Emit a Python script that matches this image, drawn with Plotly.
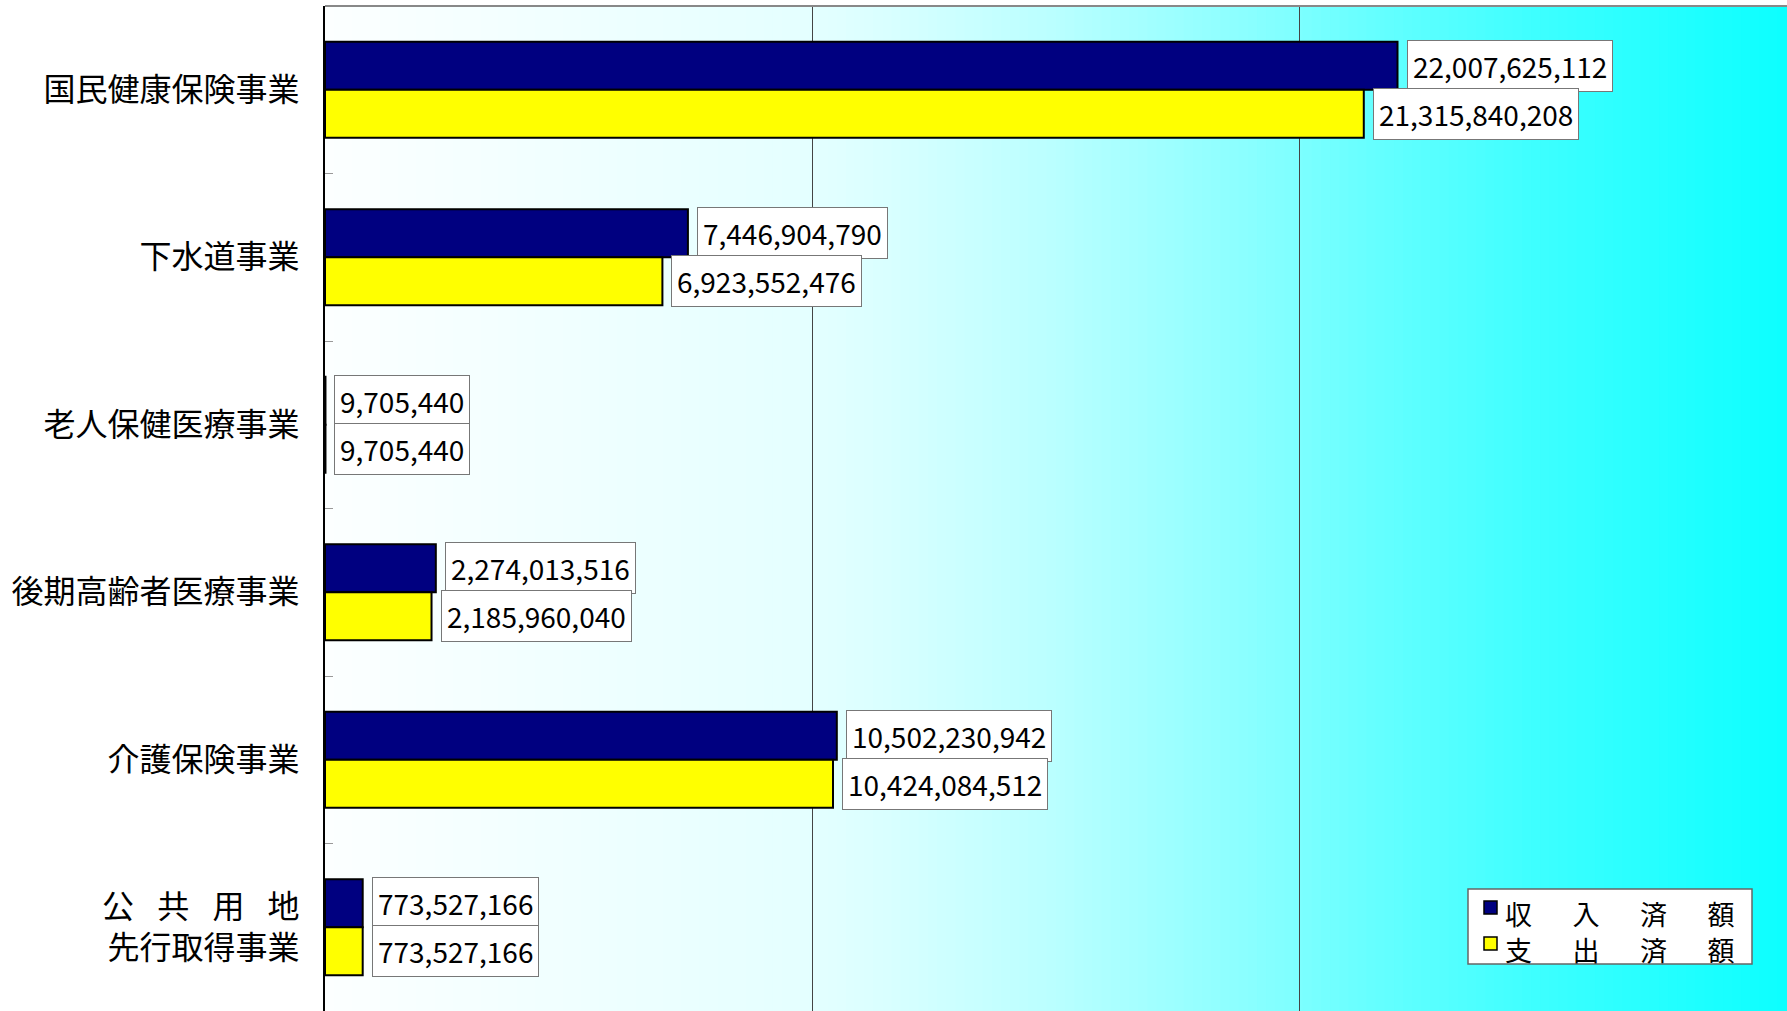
import plotly.graph_objects as go
import numpy as np

categories = ["国民健康保険事業", "下水道事業", "老人保健医療事業", "後期高齢者医療事業",
              "介護保険事業", "公\u2002 共\u2002 用\u2002 地<br>先行取得事業"]
revenue = [22007625112, 7446904790, 9705440, 2274013516, 10502230942, 773527166]
expenditure = [21315840208, 6923552476, 9705440, 2185960040, 10424084512, 773527166]
series_names = ["収\u3000\u2002入\u3000\u2002済\u3000\u2002額", "支\u3000\u2002出\u3000\u2002済\u3000\u2002額"]
series_colors = ["#000080", "#FFFF00"]
x_max = 30_000_000_000

FONT = "Noto Sans CJK JP"
W, H = 1787, 1011
ML, MT = 325, 6
PW, PH = W - ML, H - MT


def px_x(p):
    return (p - ML) / PW


def px_y(p):
    return (H - p) / PH


fig = go.Figure()
for vals, name, col in zip((revenue, expenditure), series_names, series_colors):
    fig.add_trace(go.Bar(y=categories, x=vals, orientation="h", name=name, showlegend=False,
                         marker=dict(color=col, line=dict(color="black", width=2))))

# gradient background
ctrl_t = [0, 0.333, 0.38, 0.5, 0.667, 0.7, 0.84, 1.0]
ctrl_r = [252, 228, 218, 185, 125, 108, 58, 12]
n = 160
shapes = []
for i in range(n):
    t0, t1 = i / n, (i + 1) / n
    r = int(round(np.interp((t0 + t1) / 2, ctrl_t, ctrl_r)))
    shapes.append(dict(type="rect", xref="x domain", yref="y domain", x0=t0, x1=t1 + 0.002,
                       y0=0, y1=1, fillcolor=f"rgb({r},255,255)", line=dict(width=0), layer="below"))
shapes.append(dict(type="line", xref="x domain", yref="y domain", x0=0, x1=1, y0=1, y1=1,
                   line=dict(color="#888888", width=2)))

annotations = []
for vals, shift in ((revenue, 24), (expenditure, -24)):
    for c, v in zip(categories, vals):
        annotations.append(dict(x=v, y=c, xref="x", yref="y", text=f"{v:,}", showarrow=False,
                                xanchor="left", yanchor="middle", xshift=9, yshift=shift,
                                font=dict(family=FONT, size=28, color="black"),
                                bgcolor="white", bordercolor="#777777", borderwidth=1, borderpad=5))

# custom legend box
shapes.append(dict(type="rect", xref="paper", yref="paper", x0=px_x(1468), x1=px_x(1752),
                   y0=px_y(964), y1=px_y(889), fillcolor="white",
                   line=dict(color="#666666", width=1.5)))
for name, col, cy in zip(series_names, series_colors, (913, 949)):
    shapes.append(dict(type="rect", xref="paper", yref="paper", x0=px_x(1484), x1=px_x(1497),
                       y0=px_y(cy + 1), y1=px_y(cy - 12), fillcolor=col,
                       line=dict(color="black", width=1.5)))
    annotations.append(dict(x=px_x(1503), y=px_y(cy), xref="paper", yref="paper", text=name,
                            showarrow=False, xanchor="left", yanchor="middle",
                            font=dict(family=FONT, size=27, color="black")))

fig.update_layout(
    width=W, height=H,
    margin=dict(l=ML, r=0, t=MT, b=0),
    paper_bgcolor="white", plot_bgcolor="white",
    barmode="group", bargap=0.427, bargroupgap=0,
    font=dict(family=FONT, color="black"),
    shapes=shapes, annotations=annotations,
    showlegend=False,
)
fig.update_xaxes(range=[0, x_max], dtick=10_000_000_000, showticklabels=False,
                 showgrid=True, gridcolor="#444444", gridwidth=1, zeroline=False, showline=False, ticks="")
fig.update_yaxes(autorange="reversed", showline=True, linecolor="black", linewidth=2,
                 ticks="inside", tickson="boundaries", ticklen=8, tickcolor="#999999",
                 tickfont=dict(family=FONT, size=32, color="black"), ticklabelstandoff=17,
                 showgrid=False)

fig.write_html("out.html", config={"displayModeBar": False},
               post_script="document.body.style.margin='0';")
